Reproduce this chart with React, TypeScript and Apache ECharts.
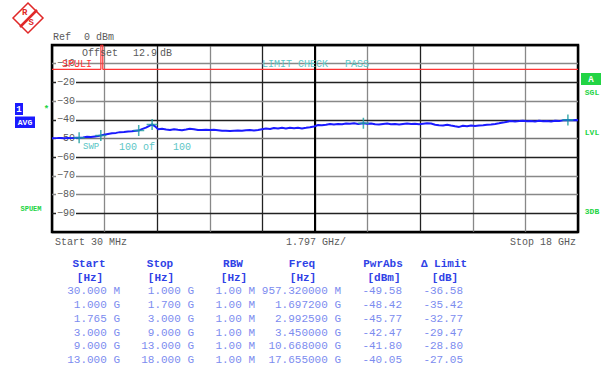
import React, { useEffect, useRef } from "react";
import * as echarts from "echarts";

// ---- trace (frequency in GHz, level in dBm) ----
const freqGHz = [
  0.03, 0.17, 0.30, 0.44, 0.58, 0.71, 0.85, 0.957, 1.09, 1.23, 1.36, 1.50, 1.60, 1.697,
  1.81, 1.94, 2.08, 2.22, 2.35, 2.49, 2.63, 2.76, 2.90, 2.99, 3.10, 3.24, 3.34, 3.45,
  3.55, 3.65, 3.79, 3.93, 4.06, 4.20, 4.33, 4.47, 4.61, 4.74, 4.88, 5.02, 5.15, 5.29,
  5.43, 5.56, 5.70, 5.84, 5.97, 6.11, 6.25, 6.38, 6.52, 6.66, 6.79, 6.93, 7.07, 7.20,
  7.34, 7.48, 7.61, 7.75, 7.89, 8.02, 8.16, 8.30, 8.43, 8.57, 8.71, 8.84, 8.98, 9.12,
  9.25, 9.39, 9.53, 9.66, 9.80, 9.94, 10.08, 10.21, 10.35, 10.49, 10.668, 10.79, 10.93,
  11.07, 11.20, 11.34, 11.48, 11.61, 11.75, 11.89, 12.02, 12.16, 12.30, 12.43, 12.57,
  12.71, 12.84, 12.98, 13.12, 13.25, 13.39, 13.53, 13.66, 13.80, 13.94, 14.07, 14.21,
  14.35, 14.48, 14.62, 14.76, 14.89, 15.03, 15.17, 15.30, 15.44, 15.58, 15.71, 15.85,
  15.99, 16.12, 16.26, 16.40, 16.53, 16.67, 16.81, 16.94, 17.08, 17.22, 17.35, 17.49,
  17.655, 17.79, 17.93, 18.0,
];
const levelDbm = [
  -49.9, -49.8, -49.7, -49.9, -49.7, -49.8, -49.6, -49.58, -49.4, -49.1, -49.2, -48.9, -48.7, -48.42,
  -48.0, -47.6, -47.2, -47.0, -46.6, -46.5, -46.2, -46.1, -45.9, -45.77, -45.0, -44.2, -43.4, -42.47,
  -43.5, -45.0, -44.8, -45.2, -45.4, -45.0, -45.3, -45.6, -45.2, -44.8, -45.0, -45.4, -45.5, -45.3,
  -45.5, -45.3, -45.6, -45.9, -45.8, -46.0, -45.8, -45.7, -45.9, -45.6, -45.5, -45.7, -45.4, -45.0,
  -44.6, -44.9, -44.4, -44.7, -44.3, -44.6, -44.2, -44.5, -44.3, -44.6, -44.3, -44.0, -43.6, -42.8,
  -42.9, -42.6, -42.2, -42.5, -42.2, -42.4, -42.0, -42.1, -41.9, -42.2, -41.80, -42.1, -42.0,
  -42.4, -42.5, -42.2, -42.0, -42.4, -42.2, -42.5, -42.2, -42.0, -42.3, -42.1, -42.4,
  -42.1, -41.9, -42.0, -42.6, -42.9, -43.0, -42.7, -43.1, -43.5, -43.8, -43.2, -43.4,
  -43.0, -43.3, -43.1, -42.9, -42.7, -42.5, -42.2, -41.9, -41.5, -41.0, -40.6, -40.9,
  -40.7, -40.5, -40.8, -40.6, -40.9, -40.5, -40.8, -40.6, -40.9, -40.5, -40.7, -40.3,
  -40.05, -40.3, -40.1, -40.2,
];

// ---- markers ----
const markerFreqGHz = [0.95732, 1.6972, 2.99259, 3.45, 10.668, 17.655];
const markerDbm = [-49.58, -48.42, -45.77, -42.47, -41.8, -40.05];

// ---- limit line ----
const limitDbm = -13;
const limitGapGHz = [1.7, 1.765];
const startGHz = 0.03;
const stopGHz = 18;
const spanPerDivGHz = 1.797;

// ---- y ticks ----
const yMin = -100;
const yMax = 0;
const yStep = 10;

// ---- table ----
const tableHeaders = ["Start", "Stop", "RBW", "Freq", "PwrAbs", "\u0394 Limit"];
const tableUnits = ["[Hz]", "[Hz]", "[Hz]", "[Hz]", "[dBm]", "[dB]"];
const startCol = ["30.000 M", "1.000 G", "1.765 G", "3.000 G", "9.000 G", "13.000 G"];
const stopCol = ["1.000 G", "1.700 G", "3.000 G", "9.000 G", "13.000 G", "18.000 G"];
const rbwCol = ["1.00 M", "1.00 M", "1.00 M", "1.00 M", "1.00 M", "1.00 M"];
const freqCol = ["957.320000 M", "1.697200 G", "2.992590 G", "3.450000 G", "10.668000 G", "17.655000 G"];
const pwrCol = ["-49.58", "-48.42", "-45.77", "-42.47", "-41.80", "-40.05"];
const deltaCol = ["-36.58", "-35.42", "-32.77", "-29.47", "-28.80", "-27.05"];

const MONO = "Liberation Mono, DejaVu Sans Mono, monospace";
const GRAY_TXT = "#5a5a5a";
const TEAL = "#5cc6c6";
const GREEN = "#22d444";
const BLUE_BOX = "#1a1aff";
const HEAD_BLUE = "#2f42e6";
const VAL_BLUE = "#7c8cef";

function txt(x: number, y: number, text: string, fill: string, size = 10, extra: any = {}) {
  return {
    type: "text",
    x,
    y,
    silent: true,
    style: {
      text,
      fill,
      font: `${extra.weight || "normal"} ${size}px ${MONO}`,
      textAlign: extra.align || "left",
      textVerticalAlign: "middle",
      ...(extra.style || {}),
    },
    z: 100,
  };
}

export default function App() {
  const ref = useRef<HTMLDivElement>(null);
  useEffect(() => {
    if (!ref.current) return;
    const chart = echarts.init(ref.current, undefined, { renderer: "svg" });

    const trace = freqGHz.map((f, i) => [f, levelDbm[i]]);
    const markers = markerFreqGHz.map((f, i) => [f, markerDbm[i]]);
    const limit = [
      [startGHz, limitDbm],
      [limitGapGHz[0], limitDbm],
      [limitGapGHz[0], yMax],
      [limitGapGHz[1], yMax],
      [limitGapGHz[1], limitDbm],
      [stopGHz, limitDbm],
    ];

    // table graphics
    const colRight = [120, 194, 255, 341, 402, 463];
    const colCenter = [89, 160, 233, 302, 383, 444];
    const cols = [startCol, stopCol, rbwCol, freqCol, pwrCol, deltaCol];
    const rowY0 = 291;
    const rowStep = 13.85;
    const tableEls: any[] = [];
    tableHeaders.forEach((h, i) => {
      tableEls.push(txt(colCenter[i], 264, h, HEAD_BLUE, 11, { weight: "bold", align: "center" }));
      tableEls.push(txt(colCenter[i] + 1, 277.5, tableUnits[i], HEAD_BLUE, 11, { weight: "bold", align: "center" }));
    });
    cols.forEach((col, ci) => {
      col.forEach((v, ri) => {
        tableEls.push(txt(colRight[ci], rowY0 + ri * rowStep, v, VAL_BLUE, 11, { align: "right" }));
      });
    });

    const xLineColors = ["#000", "#888", "#222", "#888", "#222", "#000", "#888", "#222", "#888", "#888", "#000"];
    const yLineColors = ["#000", "#222", "#888", "#888", "#222", "#777", "#222", "#888", "#222", "#888", "#000"];

    chart.setOption({
      animation: false,
      backgroundColor: "#fff",
      grid: {
        left: 52,
        top: 45,
        width: 526,
        height: 187,
        show: true,
        borderColor: "#000",
        borderWidth: 2.5,
        backgroundColor: "transparent",
      },
      xAxis: {
        type: "value",
        min: startGHz,
        max: stopGHz,
        interval: spanPerDivGHz,
        axisLine: { show: false },
        axisTick: { show: false },
        axisLabel: { show: false },
        splitLine: { show: true, lineStyle: { color: xLineColors, width: 1.3 } },
      },
      yAxis: {
        type: "value",
        min: yMin,
        max: yMax,
        interval: yStep,
        axisLine: { show: false },
        axisTick: { show: false },
        splitLine: { show: true, lineStyle: { color: yLineColors, width: 1.3 } },
        axisLabel: {
          inside: true,
          margin: 4,
          color: GRAY_TXT,
          fontFamily: MONO,
          fontSize: 10,
          backgroundColor: "#fff",
          padding: [0, 1, 0, 1],
          formatter: (v: number) => (v === yMin || v === yMax ? "" : "\u2212" + Math.abs(v)),
        },
        z: 3,
      },
      series: [
        {
          type: "line",
          data: limit,
          symbol: "none",
          lineStyle: { color: "#ff3333", width: 1.2 },
          z: 4,
          markLine: {
            silent: true,
            symbol: "none",
            label: { show: false },
            lineStyle: { color: "#000", width: 2, type: "solid" },
            data: [{ xAxis: startGHz + 5 * spanPerDivGHz }],
          },
        },
        {
          type: "line",
          data: trace,
          symbol: "none",
          lineStyle: { color: BLUE_BOX, width: 2 },
          z: 5,
        },
        {
          type: "scatter",
          data: markers,
          symbol: "path://M4.3,0h1.4v10h-1.4z M0,4.3h10v1.4h-10z",
          symbolSize: 11,
          itemStyle: { color: "#1a9e9e" },
          z: 6,
        },
      ],
      graphic: [
        // R&S logo
        {
          type: "polygon",
          silent: true,
          shape: { points: [[28, 3], [43, 18], [28, 33], [13, 18]] },
          style: { fill: "#fff", stroke: "#e02828", lineWidth: 1.5 },
          z: 100,
        },
        {
          type: "line",
          silent: true,
          shape: { x1: 20, y1: 27, x2: 37, y2: 10 },
          style: { stroke: "#e02828", lineWidth: 2.5 },
          z: 101,
        },
        txt(22, 13, "R", "#e02828", 9, { weight: "bold" }),
        txt(28.5, 23, "S", "#e02828", 9, { weight: "bold" }),
        // header texts
        txt(53, 37, "Ref", GRAY_TXT, 10),
        txt(84, 37, "0", GRAY_TXT, 10),
        txt(96, 37, "dBm", GRAY_TXT, 10),
        txt(82, 53, "Offset", GRAY_TXT, 10),
        txt(133, 53, "12.9", GRAY_TXT, 10),
        txt(160, 53, "dB", GRAY_TXT, 10),
        txt(62, 64.5, "SPULI", "#ff3333", 10),
        txt(262, 64.5, "LIMIT CHECK", TEAL, 10),
        txt(345, 64.5, "PASS", TEAL, 10),
        txt(83, 147, "SWP", TEAL, 9),
        txt(119, 147, "100 of", TEAL, 10),
        txt(173, 147, "100", TEAL, 10),
        // bottom axis texts
        txt(55, 242, "Start 30 MHz", GRAY_TXT, 10),
        txt(316, 242, "1.797 GHz/", GRAY_TXT, 10, { align: "center" }),
        txt(576, 242, "Stop 18 GHz", GRAY_TXT, 10, { align: "right" }),
        // left side labels
        {
          type: "rect",
          silent: true,
          shape: { x: 15, y: 103, width: 8, height: 12 },
          style: { fill: BLUE_BOX },
          z: 100,
        },
        txt(19, 109.5, "1", "#fff", 9, { weight: "bold", align: "center" }),
        {
          type: "rect",
          silent: true,
          shape: { x: 15, y: 116.5, width: 20, height: 11.5 },
          style: { fill: BLUE_BOX },
          z: 100,
        },
        txt(25, 122.5, "AVG", "#fff", 8, { weight: "bold", align: "center" }),
        txt(46.5, 110, "*", GREEN, 9, { weight: "bold", align: "center" }),
        txt(31, 208.5, "SPUEM", GREEN, 7, { weight: "bold", align: "center" }),
        // right side labels
        {
          type: "rect",
          silent: true,
          shape: { x: 581, y: 73, width: 20, height: 12 },
          style: { fill: GREEN },
          z: 100,
        },
        txt(591, 79.5, "A", "#fff", 9, { weight: "bold", align: "center" }),
        txt(592, 92.5, "SGL", GREEN, 8, { weight: "bold", align: "center" }),
        txt(592, 132.5, "LVL", GREEN, 8, { weight: "bold", align: "center" }),
        txt(592, 211, "3DB", GREEN, 8, { weight: "bold", align: "center" }),
        ...tableEls,
      ],
    });
    return () => chart.dispose();
  }, []);
  return (
    <div
      ref={ref}
      style={{ position: "absolute", left: 0, top: 0, width: 605, height: 371 }}
    />
  );
}
